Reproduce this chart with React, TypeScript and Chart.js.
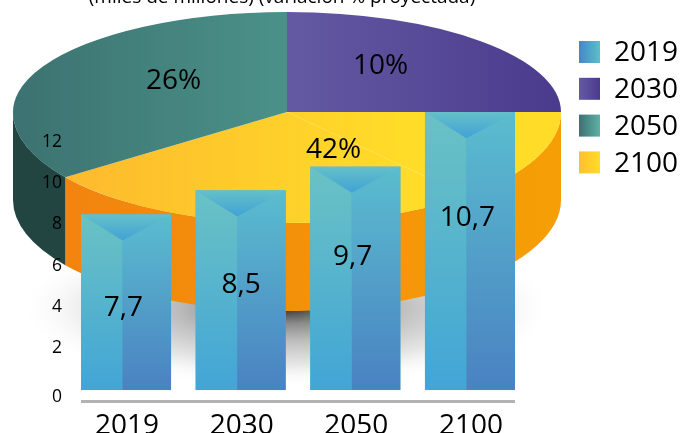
import React, { useEffect, useRef } from "react";
import { Chart, registerables } from "chart.js";

Chart.register(...registerables);

const FONT = '"Open Sans", sans-serif';
const INK = "#000000";

// Bars
const categories = ["2019", "2030", "2050", "2100"];
const printedValues = ["7,7", "8,5", "9,7", "10,7"];
const barLevels = [8.43, 9.6, 10.75, 13.4];
const printedLevels = [3.87, 5.0, 6.36, 8.27];
const yTickLevels = [-0.379, 2, 4, 6, 8, 10, 12];
const yTickLabels = ["0", "2", "4", "6", "8", "10", "12"];

// Pie
const sliceNames = ["2030", "2100", "2100", "2050"];
const sliceShares = [25, 13.6, 26.4, 35];
const slicePrinted = ["10%", "", "42%", "26%"];

// Legend
const legendNames = ["2019", "2030", "2050", "2100"];

const TITLE = "(miles de millones) (variación % proyectada)";

// pie geometry
const PX = 287, PY = 112, RX = 274, RY_UP = 100, RY_DOWN = 111, DEPTH = 88;
const CW = 683, CH = 433;
const SRC_R = CH / 2, SRC_X = CW / 2, SRC_Y = CH / 2;
const srcX = (x: number) => SRC_X + ((x - PX) * SRC_R) / RX;

const sliceGrad: [number, number, string, string][] = [
  [287, 561, "#6459a3", "#4a3b8c"],
  [61, 400, "#fdb92e", "#ffdc28"],
  [61, 400, "#fdb92e", "#ffdc28"],
  [13, 287, "#3c7271", "#4b9189"],
];
const wallGrad: [number, number, string, string][] = [
  [287, 561, "#4a3b8c", "#4a3b8c"],
  [61, 561, "#f2840f", "#f59f05"],
  [61, 561, "#f2840f", "#f59f05"],
  [13, 61, "#224541", "#224541"],
];
const legendGrad: [string, string][] = [
  ["#4387c8", "#5cc0c8"],
  ["#6459a3", "#4a3b8c"],
  ["#3b7272", "#5fb0a5"],
  ["#ffc02d", "#ffdc28"],
];

const pieLabelPolar: Record<string, [number, number]> = {
  "10%": [-53.6, 0.575],
  "42%": [63.5, 0.38],
  "26%": [217.2, 0.52],
};
const printedNudgeX = [0, 3, 0, 0];

const piePlugin = {
  id: "pie3d",
  beforeDatasetsDraw(chart: any) {
    const ctx = chart.ctx;
    // ground shadow
    ctx.save();
    ctx.translate(PX, 308);
    ctx.scale(272, 80);
    const r = ctx.createRadialGradient(0, 0, 0, 0, 0, 1);
    r.addColorStop(0, "rgba(50,50,50,1)");
    r.addColorStop(0.2, "rgba(120,120,120,0.85)");
    r.addColorStop(0.4, "rgba(170,170,170,0.8)");
    r.addColorStop(0.7, "rgba(215,215,215,0.65)");
    r.addColorStop(1, "rgba(255,255,255,0)");
    ctx.fillStyle = r;
    ctx.beginPath();
    ctx.arc(0, 0, 1, 0, Math.PI * 2);
    ctx.fill();
    ctx.restore();
    // side wall, from each slice's own angles
    const arcs = chart.getDatasetMeta(0).data;
    arcs.forEach((arc: any, i: number) => {
      const a = Math.max(arc.startAngle, 0);
      const b = Math.min(arc.endAngle, Math.PI);
      if (b <= a) return;
      const [x0, x1, c0, c1] = wallGrad[i];
      const g = ctx.createLinearGradient(x0, 0, x1, 0);
      g.addColorStop(0, c0);
      g.addColorStop(1, c1);
      ctx.fillStyle = g;
      ctx.beginPath();
      ctx.ellipse(PX, PY, RX, RY_DOWN, 0, a, b);
      ctx.ellipse(PX, PY + DEPTH, RX, RY_DOWN, 0, b, a, true);
      ctx.closePath();
      ctx.fill();
    });
  },
  beforeDatasetDraw(chart: any) {
    const ctx = chart.ctx;
    ctx.save();
    ctx.beginPath();
    ctx.rect(0, 0, CW, PY);
    ctx.clip();
    ctx.translate(PX, PY);
    ctx.scale(RX / SRC_R, RY_UP / SRC_R);
    ctx.translate(-SRC_X, -SRC_Y);
  },
  afterDatasetDraw(chart: any) {
    const ctx = chart.ctx;
    ctx.restore();
    ctx.save();
    ctx.beginPath();
    ctx.rect(0, PY, CW, CH);
    ctx.clip();
    ctx.translate(PX, PY);
    ctx.scale(RX / SRC_R, RY_DOWN / SRC_R);
    ctx.translate(-SRC_X, -SRC_Y);
    chart.getDatasetMeta(0).data.forEach((arc: any) => arc.draw(ctx));
    ctx.restore();
  },
  afterDraw(chart: any) {
    const ctx = chart.ctx;
    ctx.save();
    ctx.fillStyle = INK;
    ctx.font = `19px ${FONT}`;
    ctx.textAlign = "center";
    ctx.textBaseline = "alphabetic";
    ctx.fillText(TITLE, 282, 3);
    ctx.font = `28px ${FONT}`;
    ctx.textBaseline = "middle";
    slicePrinted.forEach((t) => {
      if (!t) return;
      const [deg, f] = pieLabelPolar[t];
      const a = (deg * Math.PI) / 180;
      const s = Math.sin(a);
      ctx.fillText(t, PX + Math.cos(a) * f * RX, PY + s * f * (s > 0 ? RY_DOWN : RY_UP));
    });
    ctx.restore();
  },
};

const barPlugin = {
  id: "facetedBars",
  afterDatasetsDraw(chart: any) {
    const ctx = chart.ctx;
    const y = chart.scales.y;
    const bars = chart.getDatasetMeta(0).data;
    bars.forEach((bar: any, i: number) => {
      const p = bar.getProps(["x", "y", "base", "width"], true);
      const left = p.x - p.width / 2;
      const right = p.x + p.width / 2;
      const split = left + p.width * 0.46;
      const lg0 = ctx.createLinearGradient(0, p.y, 0, p.base);
      lg0.addColorStop(0, "#6ac2c4");
      lg0.addColorStop(1, "#42a5d6");
      ctx.fillStyle = lg0;
      ctx.fillRect(left, p.y, split - left, p.base - p.y);
      const g = ctx.createLinearGradient(0, p.y, 0, p.base);
      g.addColorStop(0, "#5abdcf");
      g.addColorStop(1, "#4a82c2");
      ctx.fillStyle = g;
      ctx.fillRect(split, p.y, right - split, p.base - p.y);
      const t = ctx.createLinearGradient(0, p.y, 0, p.y + 26);
      t.addColorStop(0, "#64c0c8");
      t.addColorStop(1, "#42a2d6");
      ctx.fillStyle = t;
      ctx.beginPath();
      ctx.moveTo(left, p.y);
      ctx.lineTo(right, p.y);
      ctx.lineTo(split, p.y + 26);
      ctx.closePath();
      ctx.fill();
      ctx.fillStyle = INK;
      ctx.font = `28px ${FONT}`;
      ctx.textAlign = "center";
      ctx.textBaseline = "middle";
      ctx.fillText(printedValues[i], split + 1 + printedNudgeX[i], y.getPixelForValue(printedLevels[i]));
    });
    // base line under the bars
    const first = bars[0].getProps(["x", "width"], true);
    const last = bars[bars.length - 1].getProps(["x", "width"], true);
    ctx.fillStyle = "#b3b3b3";
    ctx.fillRect(first.x - first.width / 2, chart.chartArea.bottom - 1.5, last.x + last.width / 2 - (first.x - first.width / 2), 3);
    // legend
    ctx.font = `28px ${FONT}`;
    ctx.textAlign = "left";
    ctx.textBaseline = "middle";
    legendNames.forEach((n, i) => {
      const top = 41 + i * 36.8;
      const lg = ctx.createLinearGradient(579, 0, 600, 0);
      lg.addColorStop(0, legendGrad[i][0]);
      lg.addColorStop(1, legendGrad[i][1]);
      ctx.fillStyle = lg;
      ctx.fillRect(579, top, 21, 22);
      ctx.fillStyle = INK;
      ctx.fillText(n, 614, top + 12.5);
    });
  },
};

export default function App() {
  const pieRef = useRef<HTMLCanvasElement>(null);
  const barRef = useRef<HTMLCanvasElement>(null);

  useEffect(() => {
    const pie = new Chart(pieRef.current!, {
      type: "pie",
      data: {
        labels: sliceNames,
        datasets: [
          {
            data: sliceShares,
            clip: false,
            borderWidth: 0,
            backgroundColor: (c: any) => {
              const spec = sliceGrad[c.dataIndex];
              if (!spec) return "#888";
              const [x0, x1, a, b] = spec;
              const g = c.chart.ctx.createLinearGradient(srcX(x0), 0, srcX(x1), 0);
              g.addColorStop(0, a);
              g.addColorStop(1, b);
              return g;
            },
          } as any,
        ],
      },
      options: {
        responsive: false,
        animation: false,
        events: [],
        plugins: { legend: { display: false }, tooltip: { enabled: false } },
      },
      plugins: [piePlugin],
    } as any);

    const bar = new Chart(barRef.current!, {
      type: "bar",
      data: {
        labels: categories,
        datasets: [
          {
            data: barLevels,
            base: -0.09,
            categoryPercentage: 1,
            barPercentage: 90 / 114.6,
            borderWidth: 0,
            backgroundColor: "#4fb0cf",
          } as any,
        ],
      },
      options: {
        responsive: false,
        animation: false,
        events: [],
        layout: { padding: { left: 0, right: CW - 527.3, top: 99.8, bottom: 0 } },
        plugins: { legend: { display: false }, tooltip: { enabled: false } },
        scales: {
          x: {
            grid: { display: false, drawTicks: false },
            border: { display: false },
            ticks: { color: INK, font: { family: FONT, size: 28 }, padding: 8, labelOffset: 1, maxRotation: 0, autoSkip: false },
            afterFit: (s: any) => {
              s.height = CH - 401.5;
            },
          },
          y: {
            min: -0.646,
            max: 14,
            grid: { display: false, drawTicks: false },
            border: { display: false },
            afterBuildTicks: (s: any) => {
              s.ticks = yTickLevels.map((value) => ({ value }));
            },
            ticks: {
              color: INK,
              font: { family: FONT, size: 17.5 },
              padding: 6.7,
              labelOffset: 1,
              autoSkip: false,
              callback: (_v: any, i: number) => yTickLabels[i],
            },
            afterFit: (s: any) => {
              s.width = 68.7;
            },
          },
        },
      },
      plugins: [barPlugin],
    } as any);

    return () => {
      pie.destroy();
      bar.destroy();
    };
  }, []);

  const abs: React.CSSProperties = { position: "absolute", left: 0, top: 0 };
  return (
    <div style={{ position: "fixed", left: 0, top: 0, width: CW, height: CH, background: "#fff", overflow: "hidden" }}>
      <canvas ref={pieRef} width={CW} height={CH} style={abs} />
      <canvas ref={barRef} width={CW} height={CH} style={abs} />
    </div>
  );
}
